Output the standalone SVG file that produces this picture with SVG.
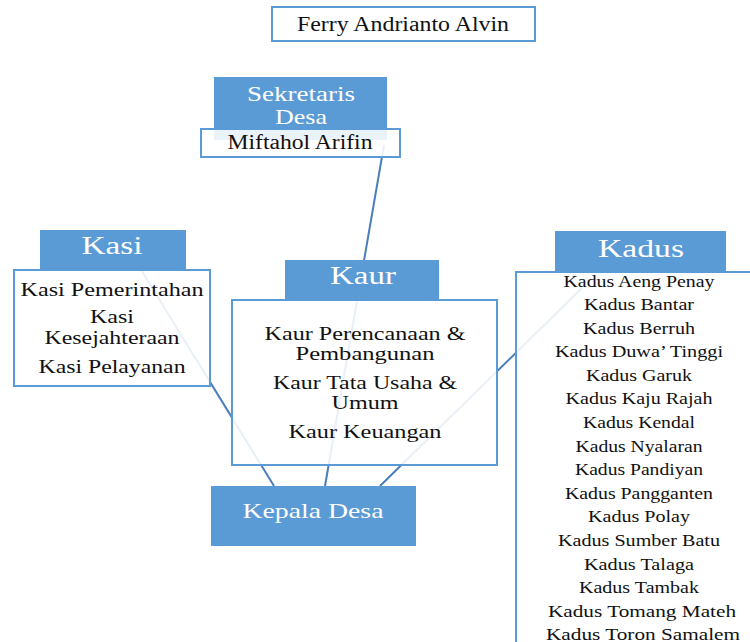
<svg xmlns="http://www.w3.org/2000/svg" width="750" height="642" viewBox="0 0 750 642">
<style>
.hdr{fill:#5B9BD5;}
.box{fill:#FFFFFF;fill-opacity:0.88;stroke:#5B9BD5;stroke-width:2;}
.conn{stroke:#4A7EBB;stroke-width:2;fill:none;}
text{font-family:"Liberation Serif","Times New Roman",serif;text-anchor:middle;}
.wt{fill:#FFFFFF;}
.bt{fill:#111111;}
</style>
<rect width="750" height="642" fill="#FFFFFF"/>
<g id="connectors">
<line class="conn" x1="274" y1="486" x2="140" y2="268"/>
<line class="conn" x1="325" y1="486" x2="384" y2="145"/>
<line class="conn" x1="380" y1="486" x2="582" y2="288"/>
</g>
<g id="ferry">
<rect class="box" x="272" y="7" width="263" height="34" fill-opacity="1"/>
<text class="bt" x="403" y="31" font-size="20" textLength="212" lengthAdjust="spacingAndGlyphs">Ferry Andrianto Alvin</text>
</g>
<g id="sekretaris">
<rect class="hdr" x="214" y="77" width="173" height="63"/>
<text class="wt" x="301" y="101" font-size="21" textLength="108" lengthAdjust="spacingAndGlyphs">Sekretaris</text>
<text class="wt" x="301" y="124" font-size="21" textLength="52" lengthAdjust="spacingAndGlyphs">Desa</text>
<rect class="box" x="201" y="129" width="199" height="28"/>
<text class="bt" x="300" y="149" font-size="20" textLength="145" lengthAdjust="spacingAndGlyphs">Miftahol Arifin</text>
</g>
<g id="kasi">
<rect class="hdr" x="40" y="230" width="146" height="40"/>
<text class="wt" x="112" y="254" font-size="25" textLength="61" lengthAdjust="spacingAndGlyphs">Kasi</text>
<rect class="box" x="14" y="270" width="196" height="116"/>
<text class="bt" x="112" y="296" font-size="19" textLength="183" lengthAdjust="spacingAndGlyphs">Kasi Pemerintahan</text>
<text class="bt" x="112" y="323" font-size="19" textLength="44" lengthAdjust="spacingAndGlyphs">Kasi</text>
<text class="bt" x="112" y="344" font-size="19" textLength="135" lengthAdjust="spacingAndGlyphs">Kesejahteraan</text>
<text class="bt" x="112" y="373" font-size="19" textLength="147" lengthAdjust="spacingAndGlyphs">Kasi Pelayanan</text>
</g>
<g id="kaur">
<rect class="hdr" x="285" y="260" width="154" height="40"/>
<text class="wt" x="363" y="284" font-size="25" textLength="66" lengthAdjust="spacingAndGlyphs">Kaur</text>
<rect class="box" x="232" y="300" width="265" height="165"/>
<text class="bt" x="365" y="340" font-size="19" textLength="201" lengthAdjust="spacingAndGlyphs">Kaur Perencanaan &amp;</text>
<text class="bt" x="365" y="360" font-size="19" textLength="139" lengthAdjust="spacingAndGlyphs">Pembangunan</text>
<text class="bt" x="365" y="389" font-size="19" textLength="184" lengthAdjust="spacingAndGlyphs">Kaur Tata Usaha &amp;</text>
<text class="bt" x="365" y="409" font-size="19" textLength="67" lengthAdjust="spacingAndGlyphs">Umum</text>
<text class="bt" x="365" y="438" font-size="19" textLength="153" lengthAdjust="spacingAndGlyphs">Kaur Keuangan</text>
</g>
<g id="kadus">
<rect class="hdr" x="555" y="231" width="171" height="42"/>
<text class="wt" x="641" y="257" font-size="25" textLength="86" lengthAdjust="spacingAndGlyphs">Kadus</text>
<rect class="box" x="516" y="272" width="250" height="390"/>
<g font-size="16" lengthAdjust="spacingAndGlyphs">
<text class="bt" x="639" y="287" textLength="151" lengthAdjust="spacingAndGlyphs">Kadus Aeng  Penay</text>
<text class="bt" x="639" y="310" textLength="110" lengthAdjust="spacingAndGlyphs">Kadus Bantar</text>
<text class="bt" x="639" y="334" textLength="112" lengthAdjust="spacingAndGlyphs">Kadus Berruh</text>
<text class="bt" x="639" y="357" textLength="168" lengthAdjust="spacingAndGlyphs">Kadus Duwa’ Tinggi</text>
<text class="bt" x="639" y="381" textLength="106" lengthAdjust="spacingAndGlyphs">Kadus Garuk</text>
<text class="bt" x="639" y="404" textLength="147" lengthAdjust="spacingAndGlyphs">Kadus Kaju Rajah</text>
<text class="bt" x="639" y="428" textLength="112" lengthAdjust="spacingAndGlyphs">Kadus Kendal</text>
<text class="bt" x="639" y="452" textLength="127" lengthAdjust="spacingAndGlyphs">Kadus Nyalaran</text>
<text class="bt" x="639" y="475" textLength="128" lengthAdjust="spacingAndGlyphs">Kadus Pandiyan</text>
<text class="bt" x="639" y="499" textLength="148" lengthAdjust="spacingAndGlyphs">Kadus Pangganten</text>
<text class="bt" x="639" y="522" textLength="102" lengthAdjust="spacingAndGlyphs">Kadus Polay</text>
<text class="bt" x="639" y="546" textLength="162" lengthAdjust="spacingAndGlyphs">Kadus Sumber Batu</text>
<text class="bt" x="639" y="570" textLength="110" lengthAdjust="spacingAndGlyphs">Kadus Talaga</text>
<text class="bt" x="639" y="593" textLength="120" lengthAdjust="spacingAndGlyphs">Kadus Tambak</text>
<text class="bt" x="642" y="617" textLength="188" lengthAdjust="spacingAndGlyphs">Kadus Tomang Mateh</text>
<text class="bt" x="643" y="640" textLength="194" lengthAdjust="spacingAndGlyphs">Kadus Toron Samalem</text>
</g>
</g>
<g id="kepala">
<rect class="hdr" x="211" y="486" width="205" height="60"/>
<text class="wt" x="313" y="518" font-size="21" textLength="141" lengthAdjust="spacingAndGlyphs">Kepala Desa</text>
</g>
</svg>
